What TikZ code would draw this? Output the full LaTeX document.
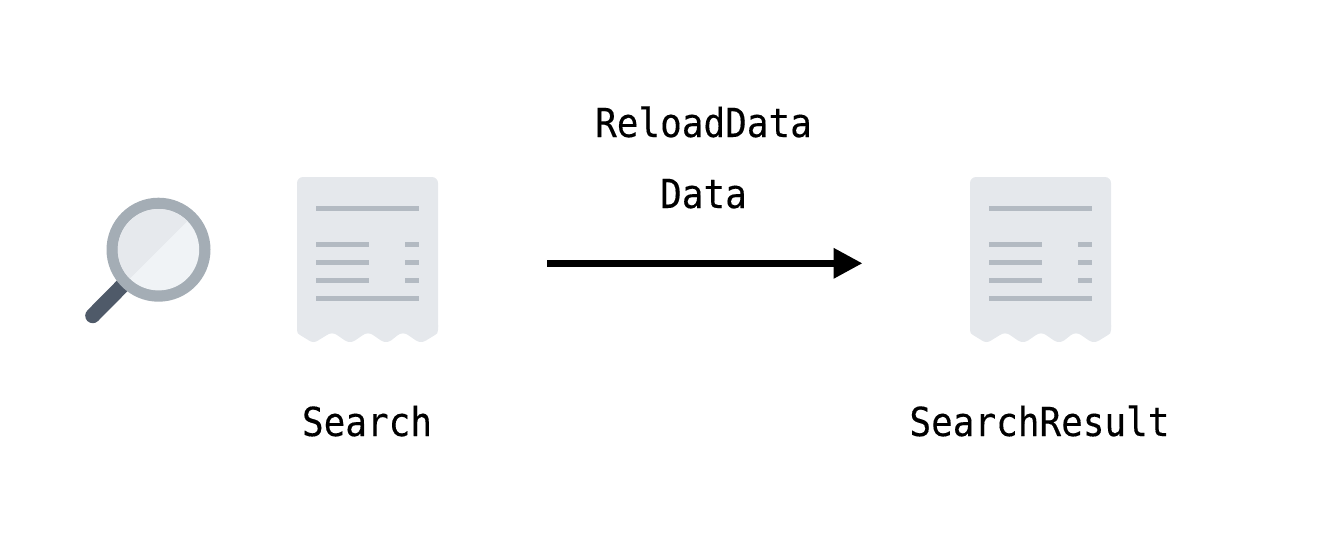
\documentclass[tikz,border=0pt]{standalone}
\usepackage{fontspec}
\setmonofont[FakeStretch=0.9,FakeBold=0.25]{DejaVu Sans Mono}
\usetikzlibrary{arrows.meta}
\definecolor{paper}{HTML}{E5E8EC}
\definecolor{rule}{HTML}{B3BAC2}
\definecolor{ringc}{HTML}{A4ADB5}
\definecolor{glassa}{HTML}{E6E9ED}
\definecolor{glassb}{HTML}{F0F3F6}
\definecolor{handlec}{HTML}{4F5A69}
\tikzset{
  label text/.style={font=\ttfamily\fontsize{40}{44}\selectfont, anchor=base, inner sep=0pt, text=black},
  flow/.style={line width=6.7pt, -{Triangle[length=29pt,width=29pt]}, shorten >=0pt},
  rowline/.style={rule, line width=4.8pt},
  pics/receipt/.style={code={
    \fill[paper, rounded corners=6pt] (297,177) -- (438,177) -- (438,333) -- (297,333) -- cycle;
    \fill[paper] (297,325) -- (297,330) .. controls (297,333) and (298,334) .. (300,335)
      -- (309,340.5) .. controls (312,342.5) and (315,342.5) .. (318,340.5)
      -- (327,335) .. controls (330,332.8) and (334,332.8) .. (337,335)
      -- (345,340.5) .. controls (348,342.5) and (352,342.5) .. (355,340.5)
      -- (363,335) .. controls (366,332.8) and (370,332.8) .. (373,335)
      -- (381,340.5) .. controls (384,342.5) and (388,342.5) .. (391,340.5)
      -- (398,335) .. controls (401,332.8) and (405,332.8) .. (408,335)
      -- (416,340.5) .. controls (419,342.5) and (423,342.5) .. (426,340.5)
      -- (435,335) .. controls (437,334) and (438,333) .. (438,330) -- (438,325) -- cycle;
    \draw[rowline] (316,208.3) -- (419,208.3);
    \draw[rowline] (316,298.3) -- (419,298.3);
    \foreach \yy in {244.5,262.7,280.7} {
      \draw[rowline] (316,\yy) -- (369,\yy);
      \draw[rowline] (405,\yy) -- (419,\yy);
    }
  }}
}
\begin{document}
\begin{tikzpicture}[x=1pt,y=-1pt]
\useasboundingbox (0,0) rectangle (1328,558);
% magnifier
\draw[handlec, line width=15pt, line cap=round] (92.7,315.7) -- (128,280);
\fill[ringc] (158.5,249.7) circle[radius=52];
\begin{scope}
  \clip (158.5,249.7) circle[radius=40.7];
  \fill[glassb] (100,190) rectangle (220,310);
  \fill[glassa] (100,190) -- (220,190) -- (186.7,221.7) -- (131.7,276.7) -- (100,308) -- cycle;
\end{scope}
% receipts
\pic at (0,0) {receipt};
\pic at (673,0) {receipt};
% labels
\node[label text] (search) at (367,436) {Search};
\node[label text] (result) at (1039.5,436) {SearchResult};
\node[label text] (reload) at (703.5,137) {ReloadData};
\node[label text] (data) at (703.5,208) {Data};
% arrow
\coordinate (from) at (547,263.3);
\coordinate (to) at (862.5,263.3);
\draw[flow] (from) -- (to);
\end{tikzpicture}
\end{document}
